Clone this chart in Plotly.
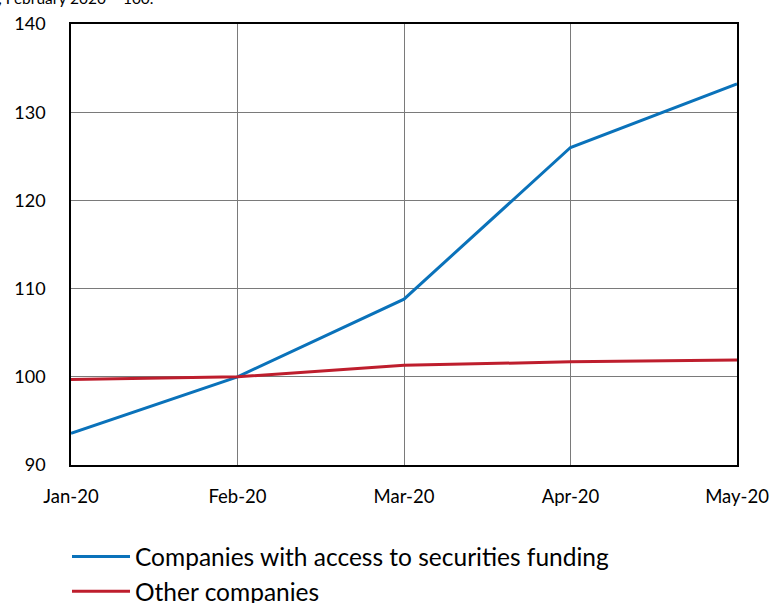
import plotly.graph_objects as go

months = ["Jan-20", "Feb-20", "Mar-20", "Apr-20", "May-20"]
securities_access = [93.6, 100.0, 108.8, 126.0, 133.2]
other_companies = [99.7, 100.0, 101.3, 101.7, 101.9]
y_ticks = [90, 100, 110, 120, 130, 140]

FONT = "Lato, 'Open Sans', sans-serif"

fig = go.Figure()
fig.add_trace(go.Scatter(x=months, y=securities_access, mode="lines",
                         name="Companies with access to securities funding",
                         line=dict(color="#0A72BA", width=3)))
fig.add_trace(go.Scatter(x=months, y=other_companies, mode="lines",
                         name="Other companies",
                         line=dict(color="#BE1E2D", width=3)))

fig.update_layout(
    width=779, height=603,
    margin=dict(l=71, r=42, t=24, b=138, autoexpand=False),
    paper_bgcolor="white", plot_bgcolor="white",
    font=dict(family=FONT, size=18, color="black"),
    showlegend=True,
    legend=dict(x=-0.006, y=-0.1565, xanchor="left", yanchor="top",
                font=dict(size=24.5, family=FONT), tracegroupgap=0,
                itemwidth=58, bgcolor="rgba(0,0,0,0)"),
    annotations=[dict(text="Index, February 2020 = 100.", xref="paper", yref="paper",
                      x=0.128, y=1.058, xanchor="right", yanchor="middle",
                      showarrow=False, font=dict(size=15.5, family=FONT))],
)
fig.update_xaxes(range=[0, 4], type="category", showgrid=True, gridcolor="#7a7a7a", gridwidth=1,
                 showline=True, linecolor="black", linewidth=1.5, mirror=True, automargin=False,
                 ticks="", tickfont=dict(size=18.5), ticklabelstandoff=14, zeroline=False)
fig.update_yaxes(range=[90, 140], tickvals=y_ticks, showgrid=True, gridcolor="#7a7a7a", gridwidth=1,
                 showline=True, linecolor="black", linewidth=1.5, mirror=True, automargin=False,
                 ticks="", tickfont=dict(size=18), ticklabelstandoff=20, zeroline=False)

fig.write_html("out.html", config={"displayModeBar": False},
               post_script="document.body.style.margin='0';")
